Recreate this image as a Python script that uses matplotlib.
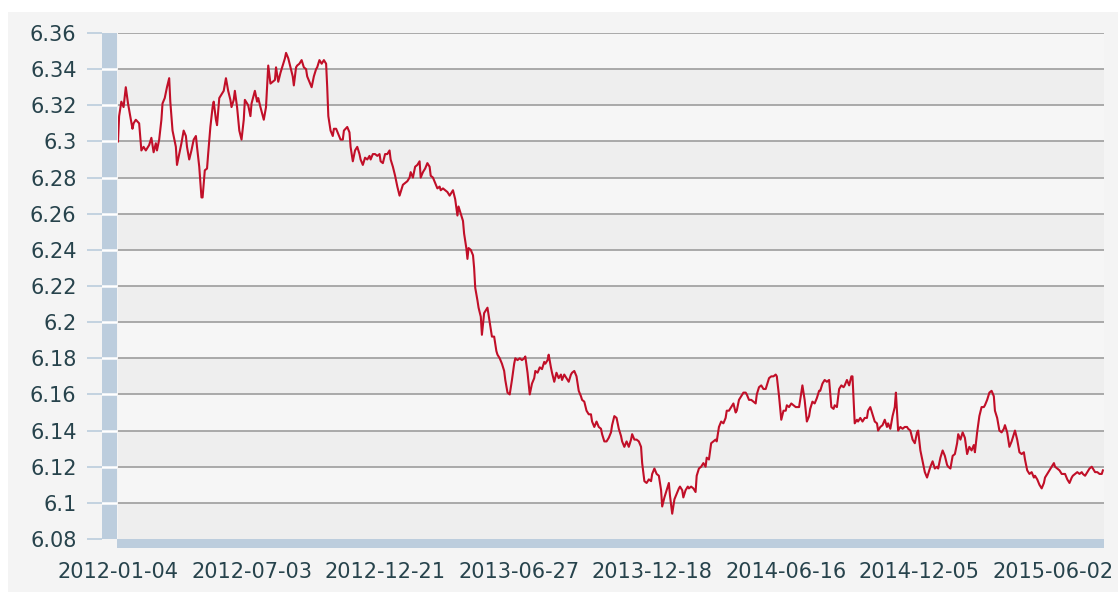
import matplotlib
matplotlib.use("Agg")
import matplotlib.pyplot as plt
from matplotlib.patches import Rectangle

# ---- data (trading-day index since 2012-01-04, USD/CNY rate) ----
trade_day = [
    0, 1, 3, 5, 7, 9, 11, 13, 14, 16, 19, 21, 23, 25, 28, 30, 32, 34, 35, 37,
    39, 40, 42, 44, 46, 47, 49, 50, 52, 53, 55, 57, 59, 61, 62, 64, 66, 68, 70, 71,
    73, 75, 76, 78, 80, 81, 83, 85, 86, 88, 89, 91, 93, 95, 97, 99, 101, 102, 104, 105,
    107, 109, 111, 113, 114, 117, 119, 120, 123, 125, 126, 128,
    131, 133, 135, 137, 139, 141, 142, 144, 146, 148, 150, 151, 153, 155, 157, 158, 160, 161,
    163, 165, 167, 169, 170, 172, 174, 176, 178, 179, 181, 183, 185, 187, 188, 189, 191, 193,
    194, 196, 198, 200, 202, 203, 206, 208, 209, 211, 213, 215, 217, 218, 220, 222, 224, 226,
    227, 229, 231, 233, 235, 236, 238, 240, 242, 244, 245, 247, 249, 251, 253,
    256, 258, 260, 262, 263, 265, 267, 269, 271, 272, 274, 276, 278, 280, 281, 283, 285, 287,
    289, 290, 292, 294, 296, 298, 299, 301, 303, 305, 306, 308, 310, 311, 313, 314, 315, 317,
    319, 320, 321, 323, 324, 326, 327, 329, 331, 332, 334, 336, 338, 340, 341, 343, 345, 347,
    348, 350, 352, 354, 356, 357, 359, 361, 363, 365, 366, 368, 370, 372, 374, 375, 377, 379,
    381, 383,
    384, 386, 387, 389, 390, 392, 394, 396, 398, 399, 401, 403, 405, 407, 408, 410, 412, 414,
    416, 417, 419, 421, 423, 425, 426, 428, 430, 432, 434, 435, 437, 439, 441, 443, 444, 446,
    448, 450, 452, 453, 455, 457, 459, 461, 462, 464, 466, 468, 470, 471, 473, 475, 477, 479,
    480, 482, 484, 486, 488, 489, 491, 493, 495, 496, 498, 500, 502, 504, 505, 507,
    508, 510, 512, 513, 515, 517, 519, 520, 522, 524, 526, 528, 529, 531, 533, 535, 537, 538,
    540, 542, 544, 546, 547, 549, 551, 553, 555, 556, 558, 560, 562, 564, 565, 567, 569, 571,
    573, 574, 576, 578, 580, 582, 583, 585, 587, 589, 591, 592, 594, 596, 598, 600, 601, 603,
    605, 607, 609, 610, 612, 614, 615, 617, 619, 621, 622, 624, 626, 628, 630, 631, 633, 635,
    637, 639, 641, 643, 644, 646, 648, 650, 652, 653, 655, 657, 659, 660, 662, 664, 665, 667,
    669, 671, 673, 674, 676, 678, 680, 682, 683, 685, 687, 689, 691, 692, 694, 696, 698, 699,
    700, 701, 703, 705, 707, 709, 710, 712, 714, 716, 718, 719, 721, 723, 725, 727, 728, 730,
    732, 734, 736, 737, 739, 741, 743, 745, 746, 748, 750, 752, 754, 755, 757, 759, 761,
    763, 765, 767, 769, 770, 772, 774, 776, 778, 779, 781, 783, 785, 787, 788, 790, 792, 794,
    796, 797, 799, 801, 803, 805, 806, 808, 810, 812, 814, 815, 817, 819, 821, 823, 824, 826,
    828, 830, 832, 833, 835, 837, 839, 841, 842, 844, 846, 848, 850, 851, 853, 855, 857, 858,
    860, 862, 864, 866, 867, 869, 871, 873, 875, 876, 878, 880, 882, 884, 885,
]

usd_cny = [
    6.300, 6.314, 6.322, 6.319, 6.330, 6.321, 6.314, 6.307, 6.310, 6.312, 6.310, 6.295, 6.297, 6.295, 6.298, 6.302, 6.294, 6.299, 6.295, 6.301,
    6.312, 6.321, 6.324, 6.330, 6.335, 6.322, 6.306, 6.303, 6.297, 6.287, 6.293, 6.299, 6.306, 6.303, 6.297, 6.290, 6.295, 6.301, 6.303, 6.297,
    6.286, 6.269, 6.269, 6.284, 6.285, 6.293, 6.308, 6.319, 6.322, 6.312, 6.309, 6.324, 6.326, 6.328, 6.335, 6.328, 6.323, 6.319, 6.323, 6.328,
    6.319, 6.306, 6.301, 6.312, 6.323, 6.320, 6.314, 6.321, 6.328, 6.322, 6.324, 6.319,
    6.312, 6.319, 6.342, 6.332, 6.333, 6.334, 6.341, 6.333, 6.338, 6.342, 6.346, 6.349, 6.346, 6.341, 6.336, 6.331, 6.341, 6.342,
    6.343, 6.345, 6.341, 6.340, 6.336, 6.333, 6.330, 6.336, 6.340, 6.341, 6.345, 6.343, 6.345, 6.343, 6.330, 6.314, 6.306, 6.303,
    6.307, 6.307, 6.304, 6.301, 6.301, 6.306, 6.308, 6.305, 6.297, 6.289, 6.295, 6.297, 6.293, 6.290, 6.287, 6.291, 6.290, 6.292,
    6.290, 6.293, 6.293, 6.292, 6.293, 6.289, 6.288, 6.293, 6.293, 6.295, 6.290, 6.286, 6.281, 6.275, 6.270,
    6.276, 6.277, 6.278, 6.280, 6.283, 6.280, 6.286, 6.287, 6.289, 6.280, 6.283, 6.285, 6.288, 6.286, 6.281, 6.280, 6.277, 6.274,
    6.275, 6.273, 6.274, 6.273, 6.272, 6.270, 6.271, 6.273, 6.268, 6.259, 6.264, 6.260, 6.256, 6.249, 6.241, 6.235, 6.241, 6.240,
    6.237, 6.230, 6.219, 6.212, 6.208, 6.203, 6.193, 6.205, 6.207, 6.208, 6.200, 6.192, 6.192, 6.184, 6.182, 6.180, 6.177, 6.173,
    6.168, 6.161, 6.160, 6.168, 6.177, 6.180, 6.179, 6.180, 6.179, 6.180, 6.181, 6.172, 6.160, 6.166, 6.169, 6.173, 6.172, 6.175,
    6.174, 6.178,
    6.177, 6.179, 6.182, 6.175, 6.172, 6.167, 6.172, 6.169, 6.171, 6.168, 6.171, 6.169, 6.167, 6.171, 6.172, 6.173, 6.170, 6.162,
    6.159, 6.157, 6.156, 6.151, 6.149, 6.149, 6.145, 6.142, 6.145, 6.142, 6.141, 6.138, 6.134, 6.134, 6.136, 6.139, 6.143, 6.148,
    6.147, 6.141, 6.137, 6.134, 6.131, 6.134, 6.131, 6.135, 6.138, 6.135, 6.135, 6.134, 6.131, 6.122, 6.112, 6.111, 6.113, 6.112,
    6.116, 6.119, 6.116, 6.115, 6.107, 6.098, 6.103, 6.107, 6.111, 6.104, 6.094, 6.102, 6.105, 6.108, 6.109, 6.107,
    6.103, 6.107, 6.109, 6.108, 6.109, 6.108, 6.106, 6.115, 6.119, 6.120, 6.122, 6.120, 6.125, 6.124, 6.133, 6.134, 6.135, 6.134,
    6.142, 6.145, 6.144, 6.147, 6.151, 6.151, 6.153, 6.155, 6.150, 6.151, 6.157, 6.159, 6.161, 6.161, 6.160, 6.157, 6.157, 6.156,
    6.155, 6.160, 6.164, 6.165, 6.163, 6.163, 6.165, 6.169, 6.170, 6.170, 6.171, 6.170, 6.159, 6.146, 6.151, 6.151, 6.154, 6.153,
    6.155, 6.154, 6.153, 6.153, 6.153, 6.161, 6.165, 6.157, 6.145, 6.148, 6.152, 6.156, 6.155, 6.158, 6.162, 6.162, 6.166, 6.168,
    6.167, 6.168, 6.153, 6.152, 6.154, 6.153, 6.163, 6.165, 6.164, 6.165, 6.168, 6.165, 6.170, 6.170, 6.144, 6.146, 6.145, 6.147,
    6.145, 6.147, 6.147, 6.151, 6.153, 6.149, 6.145, 6.144, 6.140, 6.142, 6.143, 6.146, 6.142, 6.144, 6.141, 6.148, 6.153, 6.161,
    6.151, 6.140, 6.142, 6.141, 6.142, 6.142, 6.141, 6.140, 6.135, 6.133, 6.139, 6.140, 6.129, 6.123, 6.117, 6.114, 6.116, 6.120,
    6.123, 6.119, 6.120, 6.119, 6.125, 6.129, 6.126, 6.121, 6.120, 6.119, 6.126, 6.127, 6.133, 6.138, 6.135, 6.139, 6.136,
    6.127, 6.131, 6.129, 6.132, 6.128, 6.139, 6.148, 6.153, 6.153, 6.154, 6.157, 6.161, 6.162, 6.159, 6.151, 6.147, 6.140, 6.139,
    6.141, 6.143, 6.139, 6.131, 6.134, 6.138, 6.140, 6.135, 6.128, 6.127, 6.128, 6.124, 6.118, 6.116, 6.117, 6.114, 6.115, 6.113,
    6.110, 6.108, 6.111, 6.114, 6.116, 6.118, 6.120, 6.122, 6.120, 6.119, 6.118, 6.116, 6.116, 6.116, 6.113, 6.111, 6.114, 6.115,
    6.116, 6.117, 6.116, 6.117, 6.116, 6.115, 6.117, 6.119, 6.120, 6.119, 6.117, 6.117, 6.116, 6.116, 6.118,
]

x_tick_days = [0, 120, 240, 360, 480, 600, 720, 840]
x_tick_labels = ["2012-01-04", "2012-07-03", "2012-12-21", "2013-06-27",
                 "2013-12-18", "2014-06-16", "2014-12-05", "2015-06-02"]
y_tick_values = [6.08, 6.10, 6.12, 6.14, 6.16, 6.18, 6.20, 6.22,
                 6.24, 6.26, 6.28, 6.30, 6.32, 6.34, 6.36]
y_tick_labels = ["6.08", "6.1", "6.12", "6.14", "6.16", "6.18", "6.2", "6.22",
                 "6.24", "6.26", "6.28", "6.3", "6.32", "6.34", "6.36"]

# ---- style ----
W, H = 1118, 592
TXT = "#27434c"
BAND = "#bccddd"
LINE = "#c10f28"
XMIN, XMAX = 0, 886
YMIN, YMAX = 6.08, 6.36

fig = plt.figure(figsize=(W / 100, H / 100), dpi=100, facecolor="white")
fig.patches.append(Rectangle((8 / W, 0), 1 - 8 / W, 1 - 12 / H, transform=fig.transFigure,
                             facecolor="#f4f4f4", edgecolor="none", zorder=-10))

L, R, T, B = 118, 1104, 33, 539
ax = fig.add_axes([L / W, (H - B) / H, (R - L) / W, (B - T) / H])
ax.set_xlim(XMIN, XMAX)
ax.set_ylim(YMIN, YMAX)
ax.set_facecolor("#f5f5f5")
for i in range(len(y_tick_values) - 1):
    lo, hi = y_tick_values[i], y_tick_values[i + 1]
    ax.axhspan(lo, hi, color="#eeeeee" if i % 2 == 0 else "#f6f6f6", lw=0, zorder=0)
for v in y_tick_values[1:]:
    ax.axhline(v, color="#a9a9a9", lw=1.4, zorder=1)
ax.plot(trade_day, usd_cny, color=LINE, lw=1.5, zorder=3, solid_joinstyle="round")
for s in ax.spines.values():
    s.set_visible(False)
ax.set_xticks([])
ax.set_yticks([])

# left vertical band with tick marks and labels
bx = fig.add_axes([102 / W, (H - B) / H, 15 / W, (B - T) / H])
bx.set_facecolor(BAND)
bx.set_ylim(YMIN, YMAX)
bx.set_xlim(0, 1)
for v in y_tick_values[1:-1]:
    bx.axhline(v, color="white", lw=1.8, zorder=2)
for s in bx.spines.values():
    s.set_visible(False)
bx.set_xticks([])
bx.set_yticks(y_tick_values, y_tick_labels)
bx.tick_params(axis="y", length=10.8, width=1.3, color="#bfd0de", pad=7.5,
               labelsize=15, labelcolor=TXT)

# bottom horizontal band with date labels
cx = fig.add_axes([117 / W, (H - 548) / H, (R - 117) / W, 9 / H])
cx.set_facecolor(BAND)
cx.set_xlim(XMIN - 0.9, XMAX)
cx.set_ylim(0, 1)
for s in cx.spines.values():
    s.set_visible(False)
cx.set_yticks([])
cx.set_xticks(x_tick_days, x_tick_labels)
cx.tick_params(axis="x", length=0, pad=10, labelsize=15, labelcolor=TXT)

fig.savefig("out.png", dpi=100, facecolor=fig.get_facecolor())
